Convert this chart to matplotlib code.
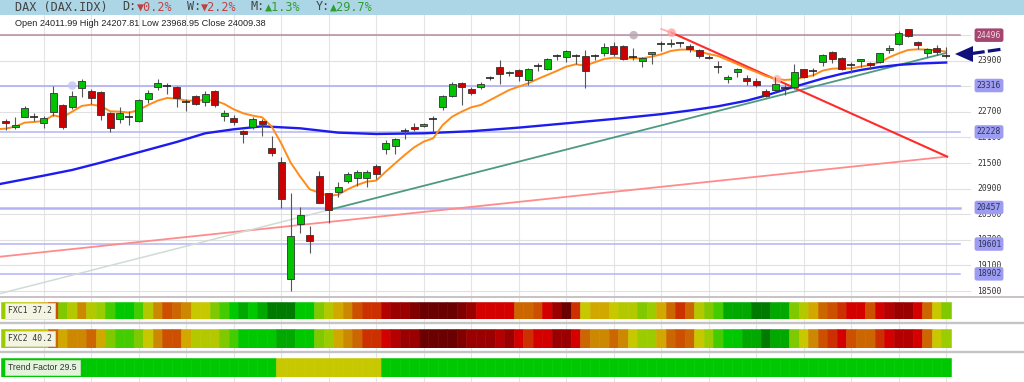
import matplotlib.pyplot as plt
from matplotlib.patches import Rectangle, Polygon

W, H = 1024, 382

# daily candles, oldest first
opens = [22485, 22350, 22585, 22585, 22430, 22705, 22860, 22820, 23265, 23195,
         23165, 22665, 22540, 22570, 22495, 23010, 23275, 23305, 23290, 22930,
         23070, 22930, 23195, 22600, 22555, 22245, 22335, 22485, 21845, 21530,
         18775, 20065, 19815, 21195, 20790, 20820, 21085, 21140, 21140, 21430,
         21820, 21905, 22260, 22335, 22375, 22525, 22820, 23080, 23385, 23245,
         23280, 23500, 23750, 23600, 23670, 23440, 23765, 23705, 24015, 23975,
         24015, 24015, 24015, 24080, 24245, 24245, 23985, 23890, 24045, 24280,
         24280, 24305, 24245, 24155, 23995, 23760, 23460, 23625, 23485, 23415,
         23180, 23210, 23265, 23290, 23695, 23655, 23875, 24110, 23955, 23795,
         23885, 23835, 23870, 24150, 24290, 24635, 24335, 24070, 24205, 24011.99]
highs = [22525, 22570, 22835, 22680, 22600, 23305, 22885, 23195, 23470, 23245,
         23180, 22695, 22805, 22710, 23010, 23210, 23460, 23385, 23305, 22995,
         23100, 23180, 23210, 22745, 22620, 22275, 22570, 22525, 22135, 21635,
         20790, 20460, 20025, 21305, 20805, 21065, 21290, 21335, 21335, 21475,
         22040, 22095, 22330, 22430, 22445, 22600, 23100, 23390, 23390, 23275,
         23405, 23545, 23920, 23655, 23705, 23720, 23845, 23955, 24065, 24155,
         24045, 24150, 24065, 24305, 24330, 24265, 24190, 23985, 24110, 24360,
         24400, 24345, 24280, 24170, 24030, 23900, 23555, 23725, 23555, 23495,
         23245, 23510, 23320, 23820, 23710, 23725, 24055, 24135, 23975, 23870,
         23945, 23870, 24085, 24260, 24600, 24650, 24370, 24195, 24260, 24207.81]
lows = [22275, 22305, 22570, 22495, 22330, 22600, 22305, 22775, 23055, 22885,
        22510, 22235, 22445, 22400, 22460, 22915, 23210, 23120, 22820, 22725,
        22850, 22835, 22820, 22495, 22390, 21975, 22305, 22135, 21665, 20440,
        18500, 19870, 19385, 20555, 20100, 20695, 21040, 20960, 20945, 21135,
        21710, 21710, 22070, 22245, 22335, 22235, 22745, 23055, 22850, 23085,
        23235, 23440, 23360, 23545, 23420, 23330, 23655, 23670, 23920, 23875,
        23815, 23265, 23920, 24015, 24015, 23905, 23920, 23750, 23830, 24125,
        24220, 24220, 24110, 23970, 23940, 23620, 23370, 23510, 23320, 23275,
        23040, 23165, 23085, 23245, 23495, 23540, 23775, 23850, 23680, 23620,
        23760, 23695, 23850, 24070, 24260, 24445, 24180, 23975, 24040, 23968.95]
closes = [22430, 22400, 22790, 22580, 22550, 23150, 22335, 23070, 23425, 23025,
          22635, 22330, 22680, 22580, 22975, 23150, 23385, 23295, 23025, 22920,
          22885, 23110, 22850, 22680, 22470, 22180, 22525, 22415, 21745, 20650,
          19790, 20280, 19675, 20570, 20400, 20945, 21245, 21295, 21295, 21235,
          21960, 22065, 22265, 22290, 22415, 22530, 23070, 23345, 23275, 23135,
          23360, 23510, 23595, 23635, 23540, 23695, 23770, 23930, 24020, 24135,
          24010, 23655, 24020, 24225, 24045, 23945, 23990, 23955, 24095, 24290,
          24320, 24300, 24170, 24015, 23955, 23755, 23525, 23705, 23430, 23335,
          23080, 23350, 23270, 23635, 23510, 23660, 24030, 23930, 23705, 23790,
          23930, 23790, 24070, 24205, 24555, 24475, 24265, 24165, 24095, 24009.38]

# orange (fast) average, one value per candle, plus the left edge
fast_x = [-0.6] + list(range(100))
fast_ma = [22298,
           22305, 22352, 22446, 22462, 22485, 22618, 22571, 22704, 22837, 22868,
           22837, 22712, 22704, 22680, 22743, 22860, 22962, 23024, 23008, 22962,
           22962, 22977, 22962, 22884, 22759, 22665, 22610, 22571, 22352, 21962,
           21508, 21180, 20883, 20805, 20727, 20758, 20883, 20985, 21063, 21087,
           21297, 21493, 21688, 21868, 22001, 22079, 22391, 22587, 22704, 22805,
           22860, 22977, 23094, 23211, 23290, 23368, 23469, 23563, 23657, 23758,
           23813, 23782, 23860, 23938, 23969, 23954, 23954, 23954, 23993, 24047,
           24126, 24157, 24157, 24110, 24055, 24008, 23914, 23821, 23719, 23633,
           23539, 23477, 23446, 23461, 23508, 23555, 23665, 23711, 23719, 23719,
           23758, 23797, 23860, 23977, 24071, 24149, 24165, 24157, 24141, 24110]

# blue (slow) average, read at selected candles
slow_x = [-0.6, 4, 7, 10, 14, 18, 21, 24, 27, 31, 35, 39, 44, 49, 54, 59, 64,
          69, 72, 75, 78, 80, 82, 84, 86, 88, 90, 92, 94, 96, 99]
slow_ma = [21008, 21204, 21337, 21508, 21751, 21993, 22196, 22290, 22360, 22313,
           22212, 22180, 22196, 22245, 22329, 22430, 22532, 22645, 22730, 22830,
           22960, 23080, 23220, 23350, 23480, 23590, 23680, 23750, 23800, 23830, 23855]

levels = [24496, 23316, 22228, 20457, 19601, 18902]
price_ticks = list(range(18500, 24501, 600))

support_x = [34, 99]
support_y = [20399, 24080]
support_ext_x = [-0.6, 34]
support_ext_y = [18440, 20399]
resist_x = [70.1, 99.1]
resist_y = [24555, 21650]
resist_ext_x = [69.0, 70.1]
resist_ext_y = [24641, 24555]
long_x = [-0.6, 99.1]
long_y = [19304, 21650]

alert_x = [7.0, 66.1, 70.1, 81.2]
alert_y = [23316, 24496, 24555, 23462]
alert_c = ['#c4c4f6', '#b8a6b0', '#ffa4a4', '#ffb4a8']

# heat strips: 0 = strong green ... 17 = strong red
fxc1 = [5, 6, 7, 7, 8, 11, 4, 6, 9, 6, 5, 3, 2, 2, 3, 6, 9, 11, 10, 9,
        7, 7, 4, 3, 2, 1, 2, 1, 0, 0, 0, 2, 2, 4, 6, 8, 9, 11, 12, 12,
        14, 15, 15, 16, 17, 17, 17, 17, 16, 15, 13, 13, 13, 13, 10, 10, 11, 13, 15, 17,
        12, 7, 8, 8, 7, 6, 6, 4, 5, 8, 10, 12, 10, 6, 4, 3, 1, 1, 1, 0,
        0, 1, 1, 4, 6, 8, 10, 11, 12, 13, 13, 11, 13, 14, 15, 15, 13, 10, 7, 4]
fxc2 = [5, 6, 7, 7, 7, 10, 8, 9, 9, 10, 8, 4, 3, 3, 4, 7, 9, 11, 11, 8,
        6, 6, 6, 4, 3, 2, 2, 2, 2, 1, 1, 2, 2, 4, 5, 8, 9, 10, 12, 12,
        13, 14, 15, 15, 17, 17, 17, 17, 16, 15, 15, 15, 14, 15, 13, 12, 13, 13, 15, 15,
        13, 10, 9, 9, 10, 9, 7, 5, 5, 8, 10, 11, 10, 7, 5, 3, 2, 2, 1, 1,
        0, 1, 1, 4, 7, 9, 11, 12, 13, 11, 10, 10, 12, 13, 14, 14, 13, 10, 7, 5]
trend = [2] * 29 + [7] * 11 + [2] * 60
palette = ['#007a00', '#00a800', '#00c800', '#44cc00', '#80c800', '#9acc00',
           '#b4c800', '#c8c800', '#d0a800', '#cc8800', '#cc6600', '#cc5000',
           '#cc3000', '#d40000', '#b40000', '#9a0000', '#800000', '#6b0000']

X0, X1 = -0.6, (W - 5.7) / 9.5
Y0 = 18500 - 6 * 23.4375
Y1 = 18500 + 276 * 23.4375
MONO = ['DejaVu Sans Mono', 'DejaVu Sans']


def fbox(x0, y0, x1, y1):
    return [x0 / W, 1 - y1 / H, (x1 - x0) / W, (y1 - y0) / H]


fig = plt.figure(figsize=(W / 100, H / 100), dpi=100)

# vertical grid through all panels
bg = fig.add_axes([0, 0, 1, 1])
bg.set_xlim(X0, X1)
bg.set_ylim(H, 0)
bg.axis('off')
for i in range(4, 100, 5):
    bg.plot([i, i], [15, H], color='#e4e4e4', lw=0.8)

# price panel
pa = fig.add_axes(fbox(0, 15, W, 297))
pa.set_xlim(X0, X1)
pa.set_ylim(Y0, Y1)
pa.axis('off')
ytr = pa.get_yaxis_transform()

for p in price_ticks:
    pa.plot([0, 970 / W], [p, p], transform=ytr, color='#e0e0e0', lw=0.8, zorder=1)
    pa.text(977 / W, p, str(p), transform=ytr, va='center', ha='left',
            fontsize=5.8, family=MONO, color='#333333', zorder=2)

lvl_w = [1.1, 1.3, 1.1, 1.8, 1.1, 1.1]
for k, lvl in enumerate(levels):
    lc = '#b48c9c' if k == 0 else '#b4b4f4'
    pa.plot([0, 960 / W], [lvl, lvl], transform=ytr, color=lc, lw=lvl_w[k], zorder=1.5)
    fc = '#a44670' if k == 0 else '#9c9cf2'
    tc = '#f4d8e4' if k == 0 else '#30305a'
    pa.text(989 / W, lvl, str(lvl), transform=ytr, ha='center', va='center',
            fontsize=5.8, family=MONO, color=tc, zorder=6,
            bbox=dict(boxstyle='round,pad=0.28', fc=fc, ec='none'))

pa.plot(long_x, long_y, color='#ff8c8c', lw=1.3, zorder=2)
pa.plot(support_ext_x, support_ext_y, color='#cfdcd6', lw=1.1, zorder=2)
pa.plot(support_x, support_y, color='#4e9a80', lw=1.3, zorder=2)
pa.plot(resist_ext_x, resist_ext_y, color='#ffb0b0', lw=1.3, zorder=2)
pa.plot(resist_x, resist_y, color='#ff2a2a', lw=1.5, zorder=2)
pa.plot(slow_x, slow_ma, color='#1c1cf0', lw=1.7, zorder=2.5)
pa.plot(fast_x, fast_ma, color='#ff8c1a', lw=1.4, zorder=2.6)
pa.scatter(alert_x, alert_y, s=38, c=alert_c, alpha=0.8, linewidths=0, zorder=2.7)

idx = list(range(len(opens)))
pa.vlines(idx, lows, highs, colors='#555555', lw=0.8, zorder=3)
bx, bb, bh, bc, dx, dy = [], [], [], [], [], []
for i in idx:
    o, c = opens[i], closes[i]
    if abs(c - o) < 20:
        dx.append(i)
        dy.append(o)
    else:
        bx.append(i)
        bb.append(min(o, c))
        bh.append(abs(c - o))
        bc.append('#00c400' if c > o else '#cc0000')
pa.bar(bx, bh, bottom=bb, width=0.72, color=bc, edgecolor='#333333', lw=0.6, zorder=4)
pa.hlines(dy, [x - 0.42 for x in dx], [x + 0.42 for x in dx], colors='#222222', lw=1.2, zorder=4)

# heat strips
for y0, y1, vals in [(302, 319, fxc1), (329, 348, fxc2), (358, 377, trend)]:
    sa = fig.add_axes(fbox(0, y0, W, y1))
    sa.set_xlim(X0, X1)
    sa.set_ylim(0, 1)
    sa.axis('off')
    cols = [palette[v] for v in vals]
    sa.bar(idx, 1, width=1.0, bottom=0, color=cols, edgecolor=cols, lw=0.4)

# overlay in pixel coordinates
ov = fig.add_axes([0, 0, 1, 1])
ov.set_xlim(0, W)
ov.set_ylim(H, 0)
ov.axis('off')
ov.add_patch(Rectangle((0, 0), W, 14.5, fc='#acd6e6', ec='none'))
cw = 7.15
title_parts = [(0, 'DAX (DAX.IDX)', '#444444'), (15, 'D:', '#444444'), (17, '▼0.2%', '#c04040'),
               (24, 'W:', '#444444'), (26, '▼2.2%', '#c04040'), (33, 'M:', '#444444'),
               (35, '▲1.3%', '#2e9e2e'), (42, 'Y:', '#444444'), (44, '▲29.7%', '#2e9e2e')]
for ch, s, col in title_parts:
    ov.text(15 + ch * cw, 7, s, fontsize=8.5, family=MONO, color=col, va='center', ha='left')

info = f'Open {opens[-1]:.2f} High {highs[-1]:.2f} Low {lows[-1]:.2f} Close {closes[-1]:.2f}'
ov.text(15, 23.5, info, fontsize=6.6, family='Liberation Sans', color='#222222', va='center')

ov.plot([0, W], [296.5, 296.5], color='#c8c2c4', lw=1.4)
ov.plot([0, W], [323.3, 323.3], color='#c4c4c4', lw=1.7)
ov.plot([0, W], [352.3, 352.3], color='#c4c4c4', lw=1.7)

ov.text(8, 310.8, 'FXC1 37.2', fontsize=5.9, family=MONO, color='#333333', va='center',
        bbox=dict(boxstyle='square,pad=0.4', fc='#f4f4e2', ec='#dcdccc', lw=0.5))
ov.text(8, 338.5, 'FXC2 40.2', fontsize=5.9, family=MONO, color='#333333', va='center',
        bbox=dict(boxstyle='square,pad=0.4', fc='#f4f4e2', ec='#dcdccc', lw=0.5))
ov.text(8, 367.3, 'Trend Factor 29.5', fontsize=6.2, family='Liberation Sans', color='#333333',
        va='center', bbox=dict(boxstyle='square,pad=0.35', fc='#e4f4dc', ec='#d0e4c8', lw=0.5))

# last price arrow
ov.add_patch(Polygon([(955, 54), (973, 46), (973, 62)], closed=True, fc='#10107a', ec='none'))
ov.plot([972, 1003], [53.5, 49], color='#10107a', lw=2.3, dashes=(4, 1))

fig.savefig('out.png', dpi=100)
